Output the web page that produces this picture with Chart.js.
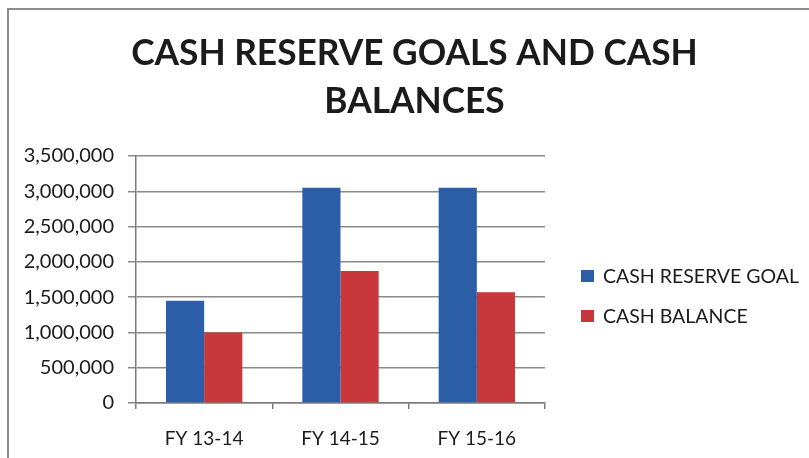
<!DOCTYPE html>
<html>
<head>
<meta charset="utf-8">
<script src="https://cdn.jsdelivr.net/npm/chart.js@4.4.1/dist/chart.umd.min.js"></script>
<style>
    html, body { margin: 0; padding: 0; background: #ffffff; }
    #wrap { width: 809px; height: 458px; position: relative; }
</style>
</head>
<body>
<div id="wrap"><canvas id="cashChart" width="809" height="458"></canvas></div>
<script>
const categories = ["FY 13-14", "FY 14-15", "FY 15-16"];
const reserveGoal = [1450000, 3050000, 3050000];
const cashBalance = [1000000, 1870000, 1570000];
const seriesNames = ["CASH RESERVE GOAL", "CASH BALANCE"];
const titleLines = ["CASH RESERVE GOALS AND CASH", "BALANCES"];
const yTickMax = 3500000;
const yTickStep = 500000;

const textColor = "#1b1b1b";
const axisColor = "#7a7a7a";

// grey frame round the picture (top and left edge only are visible)
const framePlugin = {
    id: "frame",
    afterDraw: function (chart) {
        const ctx = chart.ctx;
        ctx.save();
        ctx.strokeStyle = "#8c8c8c";
        ctx.lineWidth = 2;
        ctx.beginPath();
        ctx.moveTo(8, chart.height);
        ctx.lineTo(8, 9);
        ctx.lineTo(chart.width, 9);
        ctx.stroke();
        ctx.restore();
    }
};

// legend at right, built from the datasets
const sideLegendPlugin = {
    id: "sideLegend",
    afterDraw: function (chart) {
        const ctx = chart.ctx;
        ctx.save();
        ctx.font = "19.5px Lato";
        ctx.textBaseline = "middle";
        chart.data.datasets.forEach(function (ds, i) {
            const cy = 276 + i * 40;
            ctx.fillStyle = ds.backgroundColor;
            ctx.fillRect(581, cy - 6, 13, 12);
            ctx.fillStyle = textColor;
            ctx.fillText(ds.label, 603, cy + 1);
        });
        ctx.restore();
    }
};

new Chart(document.getElementById("cashChart"), {
    type: "bar",
    plugins: [framePlugin, sideLegendPlugin],
    data: {
        labels: categories,
        datasets: [
            {
                label: seriesNames[0],
                data: reserveGoal,
                backgroundColor: "#2c5ea8",
                borderWidth: 0,
                categoryPercentage: 0.56,
                barPercentage: 1.0
            },
            {
                label: seriesNames[1],
                data: cashBalance,
                backgroundColor: "#c8383a",
                borderWidth: 0,
                categoryPercentage: 0.56,
                barPercentage: 1.0
            }
        ]
    },
    options: {
        responsive: false,
        animation: false,
        devicePixelRatio: 1,
        layout: {
            padding: { top: 0, right: 0, bottom: 0, left: 20 }
        },
        plugins: {
            legend: { display: false },
            tooltip: { enabled: false },
            title: {
                display: true,
                text: titleLines,
                color: textColor,
                font: { family: "Lato", size: 35.3, weight: "bold", lineHeight: 1.36 },
                padding: { top: 30, bottom: 30 }
            }
        },
        scales: {
            x: {
                ticks: {
                    color: textColor,
                    font: { family: "Lato", size: 19 },
                    padding: 18
                },
                grid: {
                    offset: true,
                    drawOnChartArea: false,
                    drawTicks: true,
                    tickLength: 6,
                    color: axisColor,
                    lineWidth: 1.5
                },
                border: { color: axisColor, width: 1.5 },
                afterFit: function (scale) { scale.height = 55; }
            },
            y: {
                min: 0,
                max: yTickMax,
                ticks: {
                    stepSize: yTickStep,
                    color: textColor,
                    font: { family: "Lato", size: 20 },
                    padding: 14,
                    callback: function (v) { return v.toLocaleString("en-US"); }
                },
                grid: {
                    color: "#8a8a8a",
                    lineWidth: 1.5,
                    tickLength: 8
                },
                border: { color: axisColor, width: 1.5 },
                afterFit: function (scale) { scale.width = 116; }
            },
            // empty right-hand axis that keeps room for the legend
            legendSpace: {
                position: "right",
                grid: { display: false },
                border: { display: false },
                ticks: { display: false },
                afterFit: function (scale) { scale.width = 264; }
            }
        }
    }
});
</script>
</body>
</html>
